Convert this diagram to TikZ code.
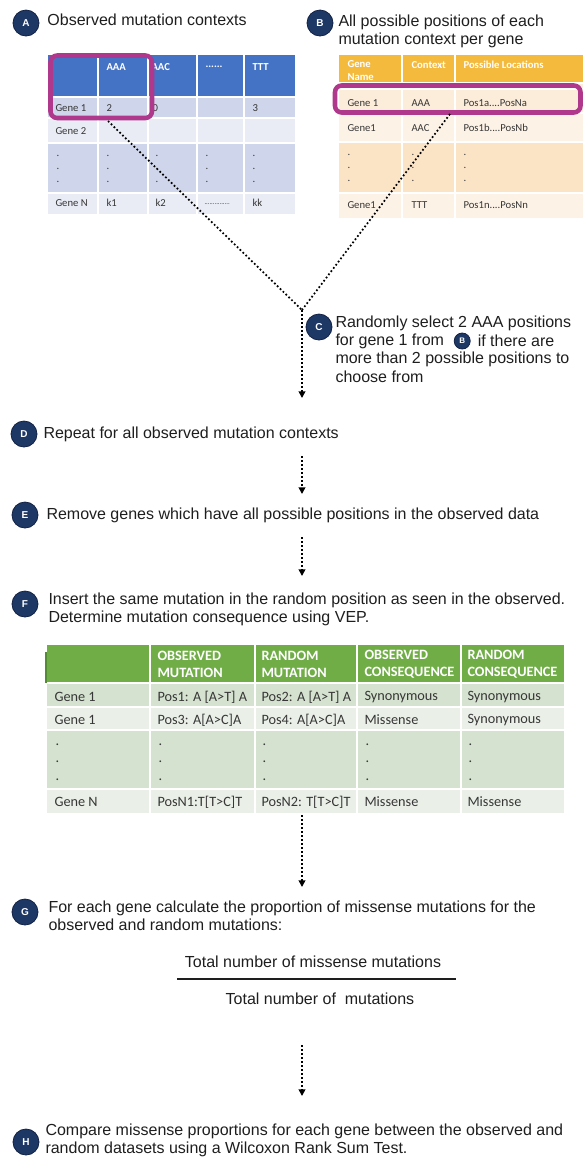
\documentclass[tikz,border=0pt]{standalone}
\usepackage{fontspec}
\setmainfont{Liberation Sans}
\newfontfamily\calibri{Carlito}
\usetikzlibrary{arrows.meta,positioning}

\definecolor{navyC}{RGB}{30,56,102}
\definecolor{navyEdge}{RGB}{18,34,68}
\definecolor{inkC}{RGB}{30,30,30}
\definecolor{cellInk}{RGB}{55,55,55}
\definecolor{blueHead}{RGB}{68,114,196}
\definecolor{blueDark}{RGB}{207,213,234}
\definecolor{blueLight}{RGB}{233,235,245}
\definecolor{goldHead}{RGB}{243,186,62}
\definecolor{goldDark}{RGB}{251,227,198}
\definecolor{goldMid}{RGB}{252,236,218}
\definecolor{goldLight}{RGB}{253,242,230}
\definecolor{greenHead}{RGB}{112,173,71}
\definecolor{greenDark}{RGB}{213,226,207}
\definecolor{greenLight}{RGB}{234,240,231}
\definecolor{greenEdge}{RGB}{84,140,52}
\definecolor{magHi}{RGB}{176,56,140}

\tikzset{every picture/.style={line width=0.75pt}}
\tikzset{
  stepdot/.style={circle, fill=navyC, draw=navyEdge, line width=0.6pt, minimum size=19.5pt, inner sep=0pt, text=white, font=\bfseries\fontsize{7.5}{7.5}\selectfont},
  minidot/.style={stepdot, minimum size=12pt, font=\bfseries\fontsize{6}{6}\selectfont},
  steptxt/.style={anchor=west, inner sep=0pt, align=left, text=inkC, font=\fontsize{12}{13.5}\selectfont},
  fracTxt/.style={inner sep=0pt, text=inkC, font=\fontsize{12}{13.5}\selectfont},
  cellA/.style={anchor=west, inner sep=0pt, align=left, text=cellInk, font=\calibri\fontsize{8}{10}\selectfont},
  headA/.style={cellA, text=white, font=\calibri\bfseries\fontsize{8}{9.75}\selectfont},
  cellF/.style={anchor=west, inner sep=0pt, align=left, text=cellInk, font=\calibri\fontsize{10.7}{13}\selectfont},
  headF/.style={cellF, text=white, font=\calibri\bfseries\fontsize{10.7}{12.75}\selectfont},
  cellRule/.style={draw=white, line width=1.5pt},
  hilite/.style={draw=magHi, line width=3.4pt, rounded corners=5pt},
  link/.style={line width=1.3pt, dash pattern=on 1.3pt off 1.7pt},
  flow/.style={link, -{Triangle[length=5pt,width=5pt]}},
}

\begin{document}
\begin{tikzpicture}[x=0.75pt,y=0.75pt,yscale=-1,xscale=1]
	\useasboundingbox (0,0) rectangle (583,1158);

	%Shape: Table A (observed contexts)
	\fill [blueHead] (48,55) rectangle (295,97);
	\fill [blueDark] (48,97) rectangle (295,118);
	\fill [blueLight] (48,118) rectangle (295,143);
	\fill [blueDark] (48,143) rectangle (295,193);
	\fill [blueLight] (48,193) rectangle (295,214);
	\draw [cellRule] (98,55) -- (98,214) (148,55) -- (148,214) (197,55) -- (197,214) (244,55) -- (244,214);
	\draw [cellRule] (48,97) -- (295,97) (48,118) -- (295,118) (48,143) -- (295,143) (48,193) -- (295,193);

	% Text Node
	\draw (106,67) node[headA] (aH1) {AAA};
	\draw (151,67) node[headA] (aH2) {AAC};
	\draw (205,67) node[headA] (aH3) {......};
	\draw (252,67) node[headA] (aH4) {TTT};
	\draw (55,108) node[cellA] (a11) {Gene 1};
	\draw (106,108) node[cellA] (a12) {2};
	\draw (152,108) node[cellA] (a13) {0};
	\draw (252,108) node[cellA] (a15) {3};
	\draw (55,131) node[cellA] (a21) {Gene 2};
	\draw (56,169) node[cellA] (a31) {.\\.\\.};
	\draw (106,169) node[cellA] (a32) {.\\.\\.};
	\draw (155,169) node[cellA] (a33) {.\\.\\.};
	\draw (205,169) node[cellA] (a34) {.\\.\\.};
	\draw (252,169) node[cellA] (a35) {.\\.\\.};
	\draw (55,203) node[cellA] (a41) {Gene N};
	\draw (106,203) node[cellA] (a42) {k1};
	\draw (155,203) node[cellA] (a43) {k2};
	\draw (204,204) node[cellA] (a44) {\fontsize{5}{5}\selectfont ...............};
	\draw (252,203) node[cellA] (a45) {kk};

	%Shape: Table B (possible positions)
	\fill [goldHead] (339,55) rectangle (583,83);
	\fill [goldMid] (339,83) rectangle (583,113);
	\fill [goldLight] (339,113) rectangle (583,142);
	\fill [goldDark] (339,142) rectangle (583,193);
	\fill [goldLight] (339,193) rectangle (583,218);
	\draw [cellRule] (402,55) -- (402,218) (455,55) -- (455,218);
	\draw [cellRule] (339,83) -- (583,83) (339,89) -- (583,89) (339,113) -- (583,113) (339,142) -- (583,142) (339,193) -- (583,193);

	% Text Node
	\draw (347,71) node[headA] (bH1) {Gene\\Name};
	\draw (411,65) node[headA] (bH2) {Context};
	\draw (463,65) node[headA] (bH3) {Possible Locations};
	\draw (347,103) node[cellA] (b11) {Gene 1};
	\draw (411,103) node[cellA] (b12) {AAA};
	\draw (463,103) node[cellA] (b13) {Pos1a....PosNa};
	\draw (347,128) node[cellA] (b21) {Gene1};
	\draw (411,128) node[cellA] (b22) {AAC};
	\draw (463,128) node[cellA] (b23) {Pos1b....PosNb};
	\draw (347,168) node[cellA] (b31) {.\\.\\.};
	\draw (411,168) node[cellA] (b32) {.\\.\\.};
	\draw (463,168) node[cellA] (b33) {.\\.\\.};
	\draw (347,205) node[cellA] (b41) {Gene1};
	\draw (411,205) node[cellA] (b42) {TTT};
	\draw (463,205) node[cellA] (b43) {Pos1n....PosNn};

	%Shape: Rectangle (highlights)
	\draw [hilite] (50.5,55.5) rectangle (152,118);
	\draw [hilite] (335,85.5) rectangle (580.5,112.5);

	% Step markers and texts
	\draw (26,23) node[stepdot] (stepA) {A};
	\draw (47,20) node[steptxt] (txtA) {Observed mutation contexts};
	\draw (320,23) node[stepdot] (stepB) {B};
	\draw (338,31) node[steptxt] (txtB) {All possible positions of each\\mutation context per gene};

	%Straight Lines (dotted links)
	\coordinate (aOut) at (108,121);
	\coordinate (bOut) at (450,114);
	\coordinate (join) at (302,310);
	\coordinate (cEnd) at (302,398);
	\draw [link] (aOut) -- (join);
	\draw [link] (bOut) -- (join);
	\draw [flow] (join) -- (cEnd);

	\draw (319,327) node[stepdot] (stepC) {C};
	\draw (335,323) node[steptxt] (txtC1) {Randomly select 2 AAA positions};
	\draw (335,341) node[steptxt] (txtC2) {for gene 1 from};
	\node [minidot, right=7pt of txtC2] (miniB) {B};
	\node [steptxt, right=5pt of miniB] (txtC3) {if there are};
	\draw (335,359) node[steptxt] (txtC4) {more than 2 possible positions to};
	\draw (335,377) node[steptxt] (txtC5) {choose from};

	\draw (24,434) node[stepdot] (stepD) {D};
	\draw (43,434) node[steptxt] (txtD) {Repeat for all observed mutation contexts};
	\coordinate (dBot) at (302,456);
	\coordinate (eTop) at (302,494);
	\draw [flow] (dBot) -- (eTop);

	\draw (25,515) node[stepdot] (stepE) {E};
	\draw (46,515) node[steptxt] (txtE) {Remove genes which have all possible positions in the observed data};
	\coordinate (eBot) at (302,537);
	\coordinate (fTop) at (302,576);
	\draw [flow] (eBot) -- (fTop);

	\draw (25,604) node[stepdot] (stepF) {F};
	\draw (48,609) node[steptxt] (txtF) {Insert the same mutation in the random position as seen in the observed.\\Determine mutation consequence using VEP.};

	%Shape: Table F (consequences)
	\fill [greenHead] (47,645) rectangle (564,683);
	\fill [greenDark] (47,683) rectangle (564,707);
	\fill [greenLight] (47,707) rectangle (564,730);
	\fill [greenDark] (47,730) rectangle (564,789);
	\fill [greenLight] (47,789) rectangle (564,813);
	\draw [greenEdge, line width=1.5pt] (46,652) -- (46,683);
	\draw [cellRule] (150,645) -- (150,813) (255,645) -- (255,813) (357,645) -- (357,813) (461,645) -- (461,813);
	\draw [cellRule] (47,683) -- (564,683) (47,707) -- (564,707) (47,730) -- (564,730) (47,789) -- (564,789);

	% Text Node
	\draw (157,664.5) node[headF] (fH2) {OBSERVED\\MUTATION};
	\draw (261,664.5) node[headF] (fH3) {RANDOM\\MUTATION};
	\draw (364,664.5) node[headF] (fH4) {OBSERVED\\CONSEQUENCE};
	\draw (467,664.5) node[headF] (fH5) {RANDOM\\CONSEQUENCE};
	\draw (54,697) node[cellF] (f11) {Gene 1};
	\draw (157,697) node[cellF] (f12) {Pos1: A [A>T] A};
	\draw (261,697) node[cellF] (f13) {Pos2: A [A>T] A};
	\draw (364,697) node[cellF] (f14) {Synonymous};
	\draw (467,697) node[cellF] (f15) {Synonymous};
	\draw (54,720) node[cellF] (f21) {Gene 1};
	\draw (157,720) node[cellF] (f22) {Pos3: A[A>C]A};
	\draw (261,720) node[cellF] (f23) {Pos4: A[A>C]A};
	\draw (364,720) node[cellF] (f24) {Missense};
	\draw (467,720) node[cellF] (f25) {Synonymous};
	\draw (55,762) node[cellF] (f31) {.\\.\\.};
	\draw (158,762) node[cellF] (f32) {.\\.\\.};
	\draw (262,762) node[cellF] (f33) {.\\.\\.};
	\draw (365,762) node[cellF] (f34) {.\\.\\.};
	\draw (468,762) node[cellF] (f35) {.\\.\\.};
	\draw (54,802) node[cellF] (f41) {Gene N};
	\draw (157,802) node[cellF] (f42) {PosN1:T[T>C]T};
	\draw (261,802) node[cellF] (f43) {PosN2: T[T>C]T};
	\draw (364,802) node[cellF] (f44) {Missense};
	\draw (467,802) node[cellF] (f45) {Missense};

	\coordinate (tabBot) at (302,815);
	\coordinate (gTop) at (302,887);
	\draw [flow] (tabBot) -- (gTop);

	\draw (25,912) node[stepdot] (stepG) {G};
	\draw (48,915.5) node[steptxt] (txtG) {For each gene calculate the proportion of missense mutations for the\\observed and random mutations:};

	%Fraction
	\draw (313,962) node[fracTxt] (fracNum) {Total number of missense mutations};
	\draw [inkC, line width=1.1pt] (177,979) -- (456,979);
	\draw (320,999) node[fracTxt] (fracDen) {Total number of~ mutations};

	\coordinate (fracBot) at (302,1045);
	\coordinate (hTop) at (302,1096);
	\draw [flow] (fracBot) -- (hTop);

	\draw (26,1142) node[stepdot] (stepH) {H};
	\draw (45,1140.5) node[steptxt] (txtH) {Compare missense proportions for each gene between the observed and\\random datasets using a Wilcoxon Rank Sum Test.};

\end{tikzpicture}
\end{document}
